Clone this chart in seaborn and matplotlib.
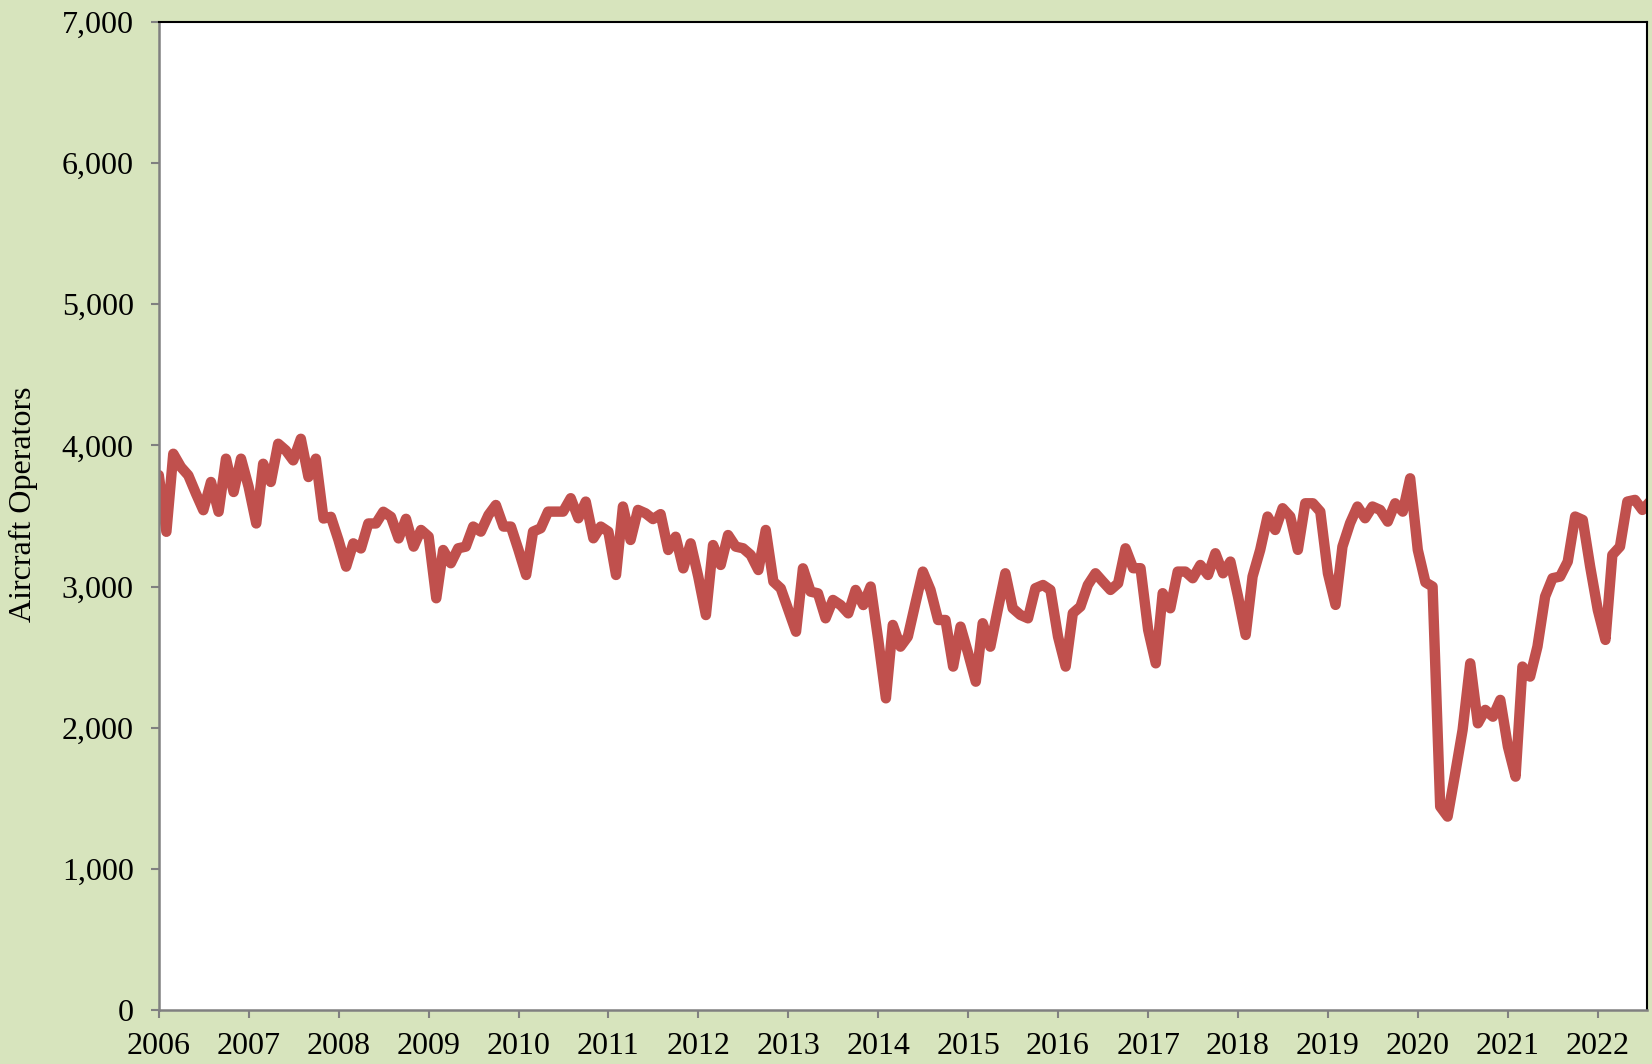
import pandas as pd
import numpy as np
import matplotlib.pyplot as plt
import matplotlib.dates as mdates
import matplotlib.ticker as mticker
import seaborn as sns

# monthly values, Jan 2006 onwards
ops_2006 = [3790, 3388, 3941, 3847, 3788, 3659, 3541, 3741, 3530, 3906, 3670, 3906]
ops_2007 = [3706, 3447, 3870, 3741, 4012, 3965, 3894, 4047, 3776, 3906, 3482, 3494]
ops_2008 = [3329, 3141, 3306, 3270, 3447, 3447, 3530, 3494, 3341, 3480, 3283, 3401]
ops_2009 = [3354, 2917, 3259, 3165, 3271, 3283, 3425, 3389, 3507, 3578, 3425, 3425]
ops_2010 = [3259, 3082, 3389, 3413, 3531, 3531, 3531, 3626, 3484, 3602, 3342, 3425]
ops_2011 = [3389, 3082, 3567, 3330, 3543, 3519, 3478, 3513, 3259, 3353, 3129, 3306]
ops_2012 = [3070, 2798, 3294, 3153, 3365, 3283, 3271, 3224, 3117, 3401, 3035, 2987]
ops_2013 = [2834, 2680, 3129, 2964, 2952, 2775, 2905, 2869, 2810, 2976, 2869, 3000]
ops_2014 = [2621, 2208, 2728, 2574, 2645, 2882, 3106, 2976, 2763, 2763, 2433, 2716]
ops_2015 = [2527, 2326, 2740, 2574, 2834, 3094, 2846, 2799, 2775, 2988, 3011, 2976]
ops_2016 = [2645, 2433, 2811, 2858, 3011, 3094, 3035, 2976, 3023, 3271, 3130, 3130]
ops_2017 = [2693, 2456, 2953, 2846, 3106, 3106, 3059, 3153, 3082, 3236, 3094, 3177]
ops_2018 = [2929, 2657, 3071, 3260, 3496, 3401, 3555, 3496, 3260, 3590, 3590, 3531]
ops_2019 = [3094, 2870, 3283, 3449, 3567, 3484, 3567, 3543, 3460, 3590, 3531, 3767]
ops_2020 = [3260, 3030, 3000, 1441, 1370, 1677, 1984, 2456, 2031, 2126, 2078, 2197]
ops_2021 = [1866, 1653, 2433, 2362, 2575, 2929, 3059, 3071, 3177, 3496, 3472, 3141]
ops_2022 = [2834, 2622, 3224, 3283, 3602, 3614, 3543, 3602]

values = (ops_2006 + ops_2007 + ops_2008 + ops_2009 + ops_2010 + ops_2011 +
          ops_2012 + ops_2013 + ops_2014 + ops_2015 + ops_2016 + ops_2017 +
          ops_2018 + ops_2019 + ops_2020 + ops_2021 + ops_2022)
df = pd.DataFrame({
    "month": pd.date_range("2006-01-01", periods=len(values), freq="MS"),
    "operators": values,
})

bg = "#D7E4BD"
fig = plt.figure(figsize=(16.52, 10.64), dpi=100, facecolor=bg)
ax = fig.add_axes([0.0961, 0.0508, 0.9009, 0.9285])
ax.set_facecolor("white")

sns.lineplot(data=df, x="month", y="operators", ax=ax, color="#C0504D",
             linewidth=7.5, solid_joinstyle="round", solid_capstyle="round")

ax.set_ylim(0, 7000)
ax.set_xlim(pd.Timestamp("2006-01-01"), pd.Timestamp("2022-07-20"))
ax.yaxis.set_major_locator(mticker.MultipleLocator(1000))
ax.yaxis.set_major_formatter(mticker.StrMethodFormatter("{x:,.0f}"))
ax.xaxis.set_major_locator(mdates.YearLocator())
ax.xaxis.set_major_formatter(mdates.DateFormatter("%Y"))

serif = "Liberation Serif"
for lab in ax.get_xticklabels() + ax.get_yticklabels():
    lab.set_fontfamily(serif)
    lab.set_fontsize(23)
ax.tick_params(axis="y", length=6, width=1.5, color="#808080", pad=12)
ax.tick_params(axis="x", length=6, width=1.5, color="#808080", pad=10)

ax.set_xlabel("")
ax.set_ylabel("Aircraft Operators", fontfamily=serif, fontsize=23)
ax.yaxis.set_label_coords(-0.081, 0.512)

for side in ["left", "bottom"]:
    ax.spines[side].set_color("#808080")
    ax.spines[side].set_linewidth(1.8)
for side in ["top", "right"]:
    ax.spines[side].set_color("black")
    ax.spines[side].set_linewidth(1.5)

fig.savefig("out.png", dpi=100, facecolor=bg)
